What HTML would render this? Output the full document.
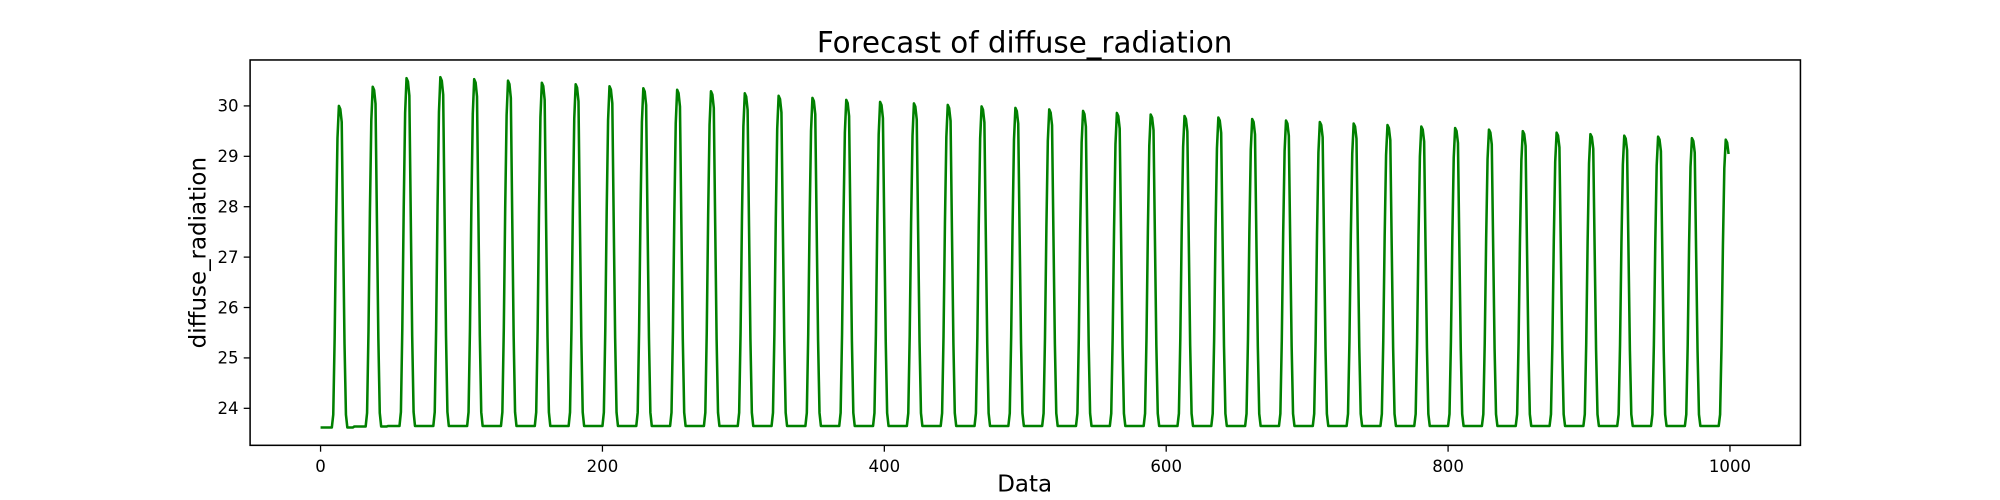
<!DOCTYPE html>
<html><head><meta charset="utf-8"><style>
html,body{margin:0;padding:0;background:#fff;overflow:hidden;font-family:"Liberation Sans","DejaVu Sans",sans-serif}
#wrap{width:2000px;height:500px;transform:scale(1.276);transform-origin:0 0}
svg{display:block}
svg text{font-family:"DejaVu Sans","Liberation Sans",sans-serif}
</style></head><body>
<div id="wrap">
<svg id="c" width="2000" height="500" viewBox="0 0 2000 500">
<text x="803" y="41" font-size="23" text-anchor="middle">Forecast of diffuse_radiation</text>
<text x="803" y="385" font-size="18" text-anchor="middle">Data</text>
<text transform="translate(161,198) rotate(-90)" font-size="18" text-anchor="middle">diffuse_radiation</text>
<g id="ax"></g>
<rect x="196" y="47" width="1215" height="302" fill="none" stroke="#000" stroke-width="1.2"/>
</svg>
</div>
<script>
const xTicks=[0,200,400,600,800,1000];
const yTicks=[24,25,26,27,28,29,30];
const dailyPeaks=[30.0,30.38,30.55,30.57,30.53,30.5,30.46,30.43,30.39,30.35,30.32,30.29,30.25,30.2,30.16,30.12,30.08,30.05,30.02,29.99,29.96,29.93,29.9,29.86,29.83,29.8,29.77,29.74,29.71,29.68,29.65,29.62,29.59,29.56,29.53,29.5,29.47,29.44,29.41,29.39,29.36,29.33];
const dailyBase=[23.62,23.64,23.65,23.65,23.65,23.65,23.65,23.65,23.65,23.65,23.65,23.65,23.65,23.65,23.65,23.65,23.65,23.65,23.65,23.65,23.65,23.65,23.65,23.65,23.65,23.65,23.65,23.65,23.65,23.65,23.65,23.65,23.65,23.65,23.65,23.65,23.65,23.65,23.65,23.65,23.65,23.65];
const hourShape=[0,0,0,0,0,0,0,0,0,0.04,0.28,0.63,0.9,1.0,0.99,0.95,0.6,0.26,0.04,0,0,0,0,0];
const nPoints=1000;
const X=v=>196+(v+50)/1100*1215;
const Y=v=>83+(30-v)*39.5;
const ns="http://www.w3.org/2000/svg";
const ax=document.getElementById('ax');
function mk(t,a){const e=document.createElementNS(ns,t);for(const k in a)e.setAttribute(k,a[k]);ax.appendChild(e);return e;}
xTicks.forEach(t=>{
 const l=mk('line',{x1:X(t),x2:X(t),y1:349,y2:354,stroke:'#000'});
 
 
 const s=mk('text',{x:X(t),y:370,'font-size':13,'text-anchor':'middle'});s.textContent=t;
 
 
});
yTicks.forEach(t=>{
 const l=mk('line',{x1:191,x2:196,y1:Y(t),y2:Y(t),stroke:'#000'});
 
 
 const s=mk('text',{x:187,y:Y(t)+4.5,'font-size':13,'text-anchor':'end'});s.textContent=t;
 
 
});
let d='';
for(let i=0;i<nPoints;i++){
 const day=Math.floor(i/24),h=i%24;
 const b=dailyBase[day],p=dailyPeaks[day];
 const v=b+(p-b)*hourShape[h];
 d+=(i?'L':'M')+X(i).toFixed(2)+','+Y(v).toFixed(2);
}
const path=mk('path',{d:d,fill:'none',stroke:'#008000','stroke-width':2,'stroke-linejoin':'round'});


</script>
</body></html>
